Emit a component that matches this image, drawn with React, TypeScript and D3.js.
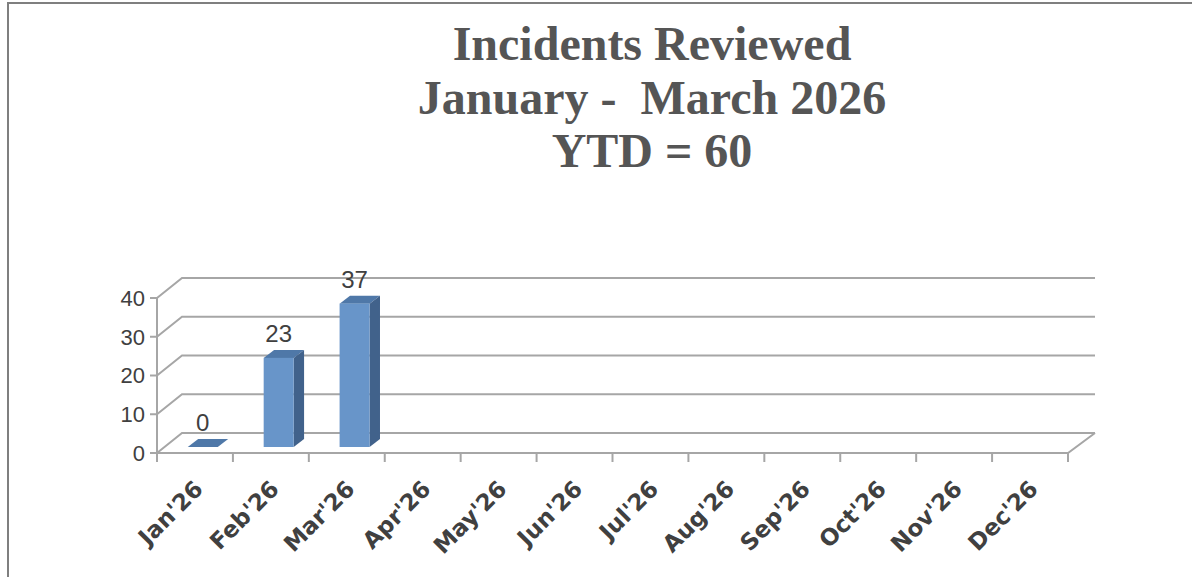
import * as d3 from "d3";
import { useEffect, useRef } from "react";

const months = ["Jan'26", "Feb'26", "Mar'26", "Apr'26", "May'26", "Jun'26", "Jul'26", "Aug'26", "Sep'26", "Oct'26", "Nov'26", "Dec'26"];
const reviewed: (number | null)[] = [0, 23, 37, null, null, null, null, null, null, null, null, null];
const yTicks = [0, 10, 20, 30, 40];
const titleLines = ["Incidents Reviewed", "January -  March 2026", "YTD = 60"];

export default function App() {
  const ref = useRef<SVGSVGElement>(null);

  useEffect(() => {
    const width = 1192,
      height = 577;
    const left = 157,
      right = 1068,
      floor = 453;
    const depthX = 26,
      depthY = 20;
    const grid = "#a6a6a6";
    const text = "#404040";

    const svg = d3.select(ref.current);
    svg.selectAll("*").remove();
    svg.attr("width", width).attr("height", height);

    // frame
    svg.append("path")
      .attr("d", `M8,${height} L8,3 L${width},3`)
      .attr("fill", "none")
      .attr("stroke", "#7f7f7f")
      .attr("stroke-width", 2);

    // title
    svg.append("g")
      .selectAll("text")
      .data(titleLines)
      .join("text")
      .attr("x", 652)
      .attr("y", (d, i) => 60 + i * 53.5)
      .attr("text-anchor", "middle")
      .attr("font-family", "Liberation Serif, serif")
      .attr("font-weight", "bold")
      .attr("font-size", 48)
      .attr("fill", "#555555")
      .style("white-space", "pre")
      .text((d) => d);

    const x = d3.scaleBand().domain(months).range([left, right]);
    const h = d3.scaleLinear().domain([0, 40]).range([0, 155]);

    const g = svg.append("g");

    // back wall gridlines + side wall diagonals
    yTicks.forEach((t) => {
      const yb = floor - depthY - h(t);
      const yf = floor - h(t);
      g.append("path")
        .attr("d", `M${left},${yf} L${left + depthX - 1},${yb} L${right + depthX + 1},${yb}`)
        .attr("fill", "none")
        .attr("stroke", grid)
        .attr("stroke-width", 2);
    });

    // floor front and right edge
    g.append("path")
      .attr("d", `M${left},${floor} L${right},${floor} L${right + depthX + 1},${floor - depthY}`)
      .attr("fill", "none")
      .attr("stroke", grid)
      .attr("stroke-width", 2);

    // y axis
    g.append("line")
      .attr("x1", left)
      .attr("x2", left)
      .attr("y1", floor - h(40))
      .attr("y2", floor)
      .attr("stroke", grid)
      .attr("stroke-width", 2);
    yTicks.forEach((t) => {
      const y = floor - h(t);
      g.append("line")
        .attr("x1", left - 7)
        .attr("x2", left)
        .attr("y1", y)
        .attr("y2", y)
        .attr("stroke", grid)
        .attr("stroke-width", 2);
      g.append("text")
        .attr("x", left - 12)
        .attr("y", y)
        .attr("dy", "0.36em")
        .attr("text-anchor", "end")
        .attr("font-family", "Liberation Sans, sans-serif")
        .attr("font-size", 22)
        .attr("fill", text)
        .text(t);
    });

    // x ticks
    const edges = months.map((m) => x(m)!).concat([right]);
    edges.forEach((e) => {
      g.append("line")
        .attr("x1", e)
        .attr("x2", e)
        .attr("y1", floor)
        .attr("y2", floor + 9)
        .attr("stroke", grid)
        .attr("stroke-width", 2);
    });

    // x labels
    g.selectAll(".xlab")
      .data(months)
      .join("text")
      .attr("class", "xlab")
      .attr("transform", (d) => `translate(${x(d)! + x.bandwidth() / 2 - 2},${floor + 26}) rotate(-45)`)
      .attr("text-anchor", "end")
      .attr("dy", "0.7em")
      .attr("font-family", "DejaVu Sans, sans-serif")
      .attr("font-weight", "bold")
      .attr("font-size", 23)
      .attr("fill", text)
      .text((d) => d);

    // bars
    const t0 = 0.3,
      t1 = 0.7;
    const barW = 30;
    const bars = months
      .map((m, i) => ({ m, v: reviewed[i] }))
      .filter((d) => d.v !== null) as { m: string; v: number }[];

    bars.forEach((d) => {
      const cx = x(d.m)! + x.bandwidth() / 2;
      const fx0 = cx + t0 * depthX - barW / 2;
      const fx1 = fx0 + barW;
      const fyb = floor - t0 * depthY;
      const fyt = fyb - h(d.v);
      const ox = (t1 - t0) * depthX;
      const oy = (t1 - t0) * depthY;
      const bg = g.append("g");
      // top
      bg.append("path")
        .attr("d", `M${fx0},${fyt} L${fx0 + ox},${fyt - oy} L${fx1 + ox},${fyt - oy} L${fx1},${fyt} Z`)
        .attr("fill", "#4f78a8");
      if (d.v > 0) {
        // side
        bg.append("path")
          .attr("d", `M${fx1},${fyt} L${fx1 + ox},${fyt - oy} L${fx1 + ox},${fyb - oy} L${fx1},${fyb} Z`)
          .attr("fill", "#41628b");
        // front
        bg.append("rect")
          .attr("x", fx0)
          .attr("y", fyt)
          .attr("width", barW)
          .attr("height", h(d.v))
          .attr("fill", "#6895c9");
      }
      bg.append("text")
        .attr("x", cx + t0 * depthX)
        .attr("y", fyt - 16)
        .attr("text-anchor", "middle")
        .attr("font-family", "Liberation Sans, sans-serif")
        .attr("font-size", 24)
        .attr("fill", text)
        .text(d.v);
    });
  }, []);

  return <svg ref={ref} style={{ position: "absolute", left: 0, top: 0, display: "block" }}></svg>;
}
